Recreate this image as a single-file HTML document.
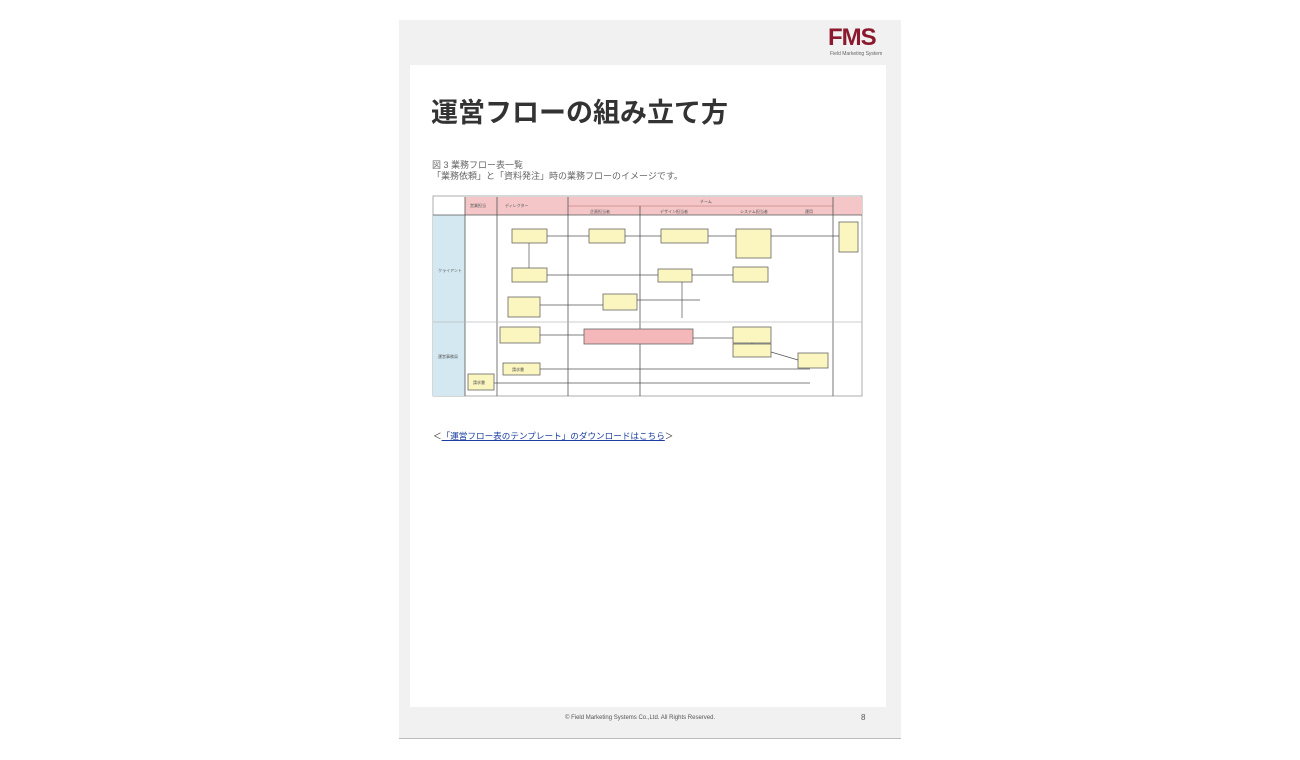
<!DOCTYPE html>
<html><head><meta charset="utf-8"><style>
body{margin:0;width:1300px;height:760px;background:#fff;position:relative;overflow:hidden;font-family:"Liberation Sans","Noto Sans CJK JP",sans-serif}
.frame{position:absolute;left:399px;top:20px;width:502px;height:718px;background:#f1f1f1;border-bottom:1px solid #bbb}
.inner{position:absolute;left:410px;top:65px;width:476px;height:642px;background:#fff}
.abs{position:absolute;white-space:nowrap}
</style></head><body>
<div class="frame"></div>
<div class="inner"></div>
<div class="abs" style="left:828px;top:26px;font-size:24px;font-weight:bold;color:#8b1a2e;letter-spacing:-1px;line-height:24px">FMS</div>
<div class="abs" style="left:830px;top:51px;font-size:5px;color:#666">Field Marketing System</div>
<div class="abs" style="left:431px;top:96px;font-size:27px;font-weight:bold;color:#333;line-height:34px">運営フローの組み立て方</div>
<div class="abs" style="left:432px;top:160px;font-size:9px;color:#666;line-height:11px">図 3 業務フロー表一覧<br>「業務依頼」と「資料発注」時の業務フローのイメージです。</div>
<svg class="abs" style="left:0;top:0" width="1300" height="760">
<g stroke="#555" stroke-width="0.8" fill="none">
<rect x="433" y="196" width="429" height="200" fill="#fff" stroke="#999"/>
<rect x="465" y="197" width="397" height="18" fill="#f4c6c8" stroke="none"/>
<rect x="433" y="215" width="32" height="181" fill="#d4e8f2" stroke="none"/>
<line x1="433" y1="215" x2="862" y2="215"/>
<line x1="568" y1="206" x2="833" y2="206" stroke="#c88"/>
<line x1="465" y1="197" x2="465" y2="396"/>
<line x1="497" y1="197" x2="497" y2="396"/>
<line x1="568" y1="197" x2="568" y2="396"/>
<line x1="640" y1="206" x2="640" y2="396"/>
<line x1="833" y1="197" x2="833" y2="396"/>
<line x1="433" y1="322" x2="862" y2="322" stroke="#bbb"/>
</g>
<g stroke="#666" stroke-width="0.8" fill="#fbf5c0">
<rect x="512" y="229" width="35" height="14"/><rect x="589" y="229" width="36" height="14"/>
<rect x="661" y="229" width="47" height="14"/><rect x="736" y="229" width="35" height="29"/>
<rect x="839" y="222" width="19" height="30"/><rect x="512" y="268" width="35" height="14"/>
<rect x="658" y="269" width="34" height="13"/><rect x="733" y="267" width="35" height="15"/>
<rect x="508" y="297" width="32" height="20"/><rect x="603" y="294" width="34" height="16"/>
<rect x="500" y="327" width="40" height="16"/><rect x="584" y="329" width="109" height="15" fill="#f4b8ba"/>
<rect x="733" y="327" width="38" height="16"/><rect x="733" y="344" width="38" height="13"/>
<rect x="798" y="353" width="30" height="15"/><rect x="503" y="363" width="37" height="12"/>
<rect x="468" y="374" width="26" height="16"/>
</g>
<g stroke="#555" stroke-width="0.7" fill="none">
<line x1="547" y1="236" x2="589" y2="236"/><line x1="625" y1="236" x2="661" y2="236"/>
<line x1="771" y1="236" x2="839" y2="236"/><line x1="708" y1="236" x2="736" y2="236"/>
<line x1="529" y1="243" x2="529" y2="268"/><line x1="547" y1="275" x2="658" y2="275"/>
<line x1="692" y1="275" x2="733" y2="275"/><line x1="540" y1="305" x2="603" y2="305"/>
<line x1="637" y1="300" x2="700" y2="300"/><line x1="682" y1="282" x2="682" y2="318"/>
<line x1="540" y1="335" x2="584" y2="335"/><line x1="693" y1="338" x2="733" y2="338"/>
<line x1="752" y1="343" x2="752" y2="344"/><line x1="771" y1="352" x2="798" y2="360"/>
<line x1="540" y1="369" x2="810" y2="369"/><line x1="494" y1="383" x2="810" y2="383"/>
</g>
<g font-size="4" fill="#555">
<text x="470" y="207">営業担当</text><text x="505" y="207">ディレクター</text>
<text x="700" y="203">チーム</text><text x="590" y="213">企画担当者</text><text x="660" y="213">デザイン担当者</text><text x="740" y="213">システム担当者</text><text x="805" y="213">運用</text>
<text x="438" y="272">クライアント</text><text x="438" y="358">運営事務局</text>
<text x="473" y="384">請求書</text><text x="512" y="371">請求書</text>
</g>
</svg>
<div class="abs" style="left:433px;top:430px;font-size:8.6px;color:#333">＜<span style="color:#1a3fa0;text-decoration:underline">「運営フロー表のテンプレート」のダウンロードはこちら</span>＞</div>
<div class="abs" style="left:565px;top:715px;font-size:6px;color:#555">© Field Marketing Systems Co.,Ltd. All Rights Reserved.</div>
<div class="abs" style="left:861px;top:713px;font-size:8px;color:#555">8</div>
</body></html>
